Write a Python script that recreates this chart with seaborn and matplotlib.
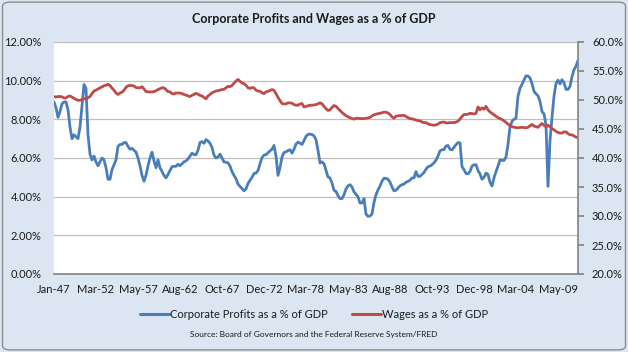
import numpy as np
import pandas as pd
import seaborn as sns
import matplotlib
matplotlib.use("Agg")
import matplotlib.pyplot as plt
from matplotlib.patches import FancyBboxPatch
from matplotlib.lines import Line2D

# ---- data (quarterly, 1947Q1 .. 2012Q3), values in percent ----
profits = [
    8.9, 8.6, 8.1, 8.4, 8.8, 8.9, 8.9, 8.5, 7.6, 7.0,
    7.2, 7.1, 7.0, 7.6, 8.7, 9.8, 9.6, 7.2, 6.2, 5.9,
    6.1, 5.8, 5.6, 5.8, 6.0, 5.9, 5.5, 4.9, 4.9, 5.4,
    5.65, 5.9, 6.6, 6.7, 6.7, 6.8, 6.8, 6.6, 6.45, 6.5,
    6.4, 6.3, 6.0, 5.6, 5.1, 4.8, 5.1, 5.6, 6.0, 6.3,
    5.85, 5.5, 5.9, 5.5, 5.3, 5.1, 4.97, 5.15, 5.35, 5.55,
    5.57, 5.57, 5.68, 5.6, 5.7, 5.8, 5.85, 5.95, 6.1, 6.25,
    6.18, 6.17, 6.4, 6.8, 6.85, 6.76, 6.95, 6.88, 6.76, 6.55,
    6.15, 6.0, 6.05, 6.2, 6.0, 5.8, 5.78, 5.75, 5.58, 5.3,
    5.1, 4.93, 4.65, 4.53, 4.42, 4.3, 4.4, 4.68, 4.85, 5.0,
    5.2, 5.22, 5.35, 5.7, 6.02, 6.15, 6.17, 6.27, 6.37, 6.45,
    6.65, 6.1, 5.1, 5.5, 6.05, 6.28, 6.32, 6.38, 6.43, 6.25,
    6.45, 6.72, 6.82, 6.77, 6.7, 6.9, 7.12, 7.22, 7.24, 7.21,
    7.15, 6.95, 6.4, 5.74, 5.8, 5.7, 5.35, 5.02, 4.97, 4.7,
    4.33, 4.27, 4.05, 3.9, 3.9, 4.1, 4.4, 4.56, 4.62, 4.5,
    4.25, 4.12, 4.0, 3.67, 3.67, 3.9, 3.1, 2.98, 3.0, 3.1,
    3.7, 4.1, 4.35, 4.55, 4.8, 4.95, 4.95, 4.9, 4.75, 4.5,
    4.3, 4.33, 4.45, 4.56, 4.62, 4.65, 4.75, 4.79, 4.85, 4.97,
    4.97, 5.3, 5.05, 5.05, 5.15, 5.25, 5.42, 5.55, 5.58, 5.65,
    5.75, 5.88, 6.1, 6.37, 6.43, 6.43, 6.62, 6.65, 6.45, 6.42,
    6.55, 6.69, 6.8, 6.78, 5.55, 5.4, 5.2, 5.18, 5.3, 5.58,
    5.65, 5.65, 5.35, 5.18, 4.9, 5.0, 5.22, 5.15, 4.75, 4.55,
    4.97, 5.3, 5.58, 5.9, 5.88, 5.87, 6.05, 6.7, 7.6, 7.9,
    8.0, 8.06, 9.2, 9.6, 9.82, 10.03, 10.25, 10.24, 10.14, 9.85,
    9.45, 9.32, 9.22, 8.93, 8.4, 8.28, 7.72, 4.53, 6.9, 8.1,
    9.2, 9.85, 10.03, 9.83, 10.05, 9.9, 9.55, 9.55, 9.7, 10.2,
    10.57, 10.75, 11.05,
]
wages = [
    50.6, 50.5, 50.6, 50.6, 50.55, 50.35, 50.35, 50.6, 50.7, 50.5,
    50.3, 50.1, 49.95, 49.95, 50.1, 50.2, 50.25, 50.4, 50.6, 51.1,
    51.55, 51.7, 51.9, 52.1, 52.25, 52.45, 52.55, 52.7, 52.5, 52.05,
    51.7, 51.2, 50.95, 51.2, 51.35, 51.7, 52.2, 52.45, 52.5, 52.5,
    52.4, 52.15, 52.1, 52.1, 52.3, 51.9, 51.45, 51.4, 51.4, 51.4,
    51.45, 51.6, 51.8, 51.95, 52.1, 52.1, 51.8, 51.45, 51.4, 51.1,
    51.05, 51.2, 51.2, 51.2, 51.1, 50.95, 50.85, 50.7, 50.6, 50.8,
    50.95, 51.15, 51.0, 50.8, 50.7, 50.45, 50.2, 50.7, 50.95, 51.25,
    51.4, 51.55, 51.6, 51.7, 51.8, 51.85, 52.1, 52.35, 52.3, 52.5,
    52.9, 53.25, 53.55, 53.2, 52.95, 52.8, 52.55, 52.1, 52.0, 52.15,
    52.1, 51.7, 51.55, 51.5, 51.25, 51.1, 51.4, 51.5, 51.65, 51.8,
    51.65, 51.1, 50.45, 49.9, 49.4, 49.3, 49.35, 49.5, 49.5, 49.45,
    49.2, 49.1, 49.1, 49.3, 49.4, 48.8, 48.9, 49.0, 49.1, 49.1,
    49.15, 49.2, 49.35, 49.5, 49.35, 48.9, 48.5, 48.2, 48.3, 48.7,
    49.05, 48.9, 48.55, 48.2, 47.85, 47.55, 47.3, 47.1, 46.95, 46.8,
    46.7, 46.85, 46.85, 46.8, 46.8, 46.8, 46.85, 46.9, 47.0, 47.25,
    47.45, 47.55, 47.65, 47.7, 47.8, 47.9, 47.9, 47.75, 47.5, 47.1,
    46.85, 47.2, 47.3, 47.3, 47.35, 47.35, 47.15, 46.95, 46.8, 46.75,
    46.65, 46.55, 46.45, 46.4, 46.2, 46.1, 46.1, 45.9, 45.75, 45.7,
    45.65, 45.7, 45.85, 46.1, 46.15, 46.2, 46.05, 46.05, 46.1, 46.1,
    46.1, 46.2, 46.35, 46.7, 47.15, 47.5, 47.5, 47.55, 47.7, 47.65,
    47.6, 47.7, 48.8, 48.3, 48.65, 48.4, 48.9, 48.3, 47.95, 47.7,
    47.45, 47.2, 46.95, 46.8, 46.65, 46.4, 46.15, 45.85, 45.6, 45.4,
    45.3, 45.25, 45.2, 45.25, 45.3, 45.25, 45.2, 45.3, 45.55, 45.8,
    45.5, 45.4, 45.3, 45.65, 45.95, 45.65, 45.35, 45.65, 45.4, 45.1,
    44.85, 44.6, 44.4, 44.3, 44.3, 44.5, 44.5, 44.2, 44.0, 44.0,
    43.8, 43.6, 43.5,
]
tick_labels = ["Jan-47", "Mar-52", "May-57", "Aug-62", "Oct-67", "Dec-72",
               "Mar-78", "May-83", "Aug-88", "Oct-93", "Dec-98", "Mar-04", "May-09"]
left_ticks = [0, 2, 4, 6, 8, 10, 12]
right_ticks = [20, 25, 30, 35, 40, 45, 50, 55, 60]

title = "Corporate Profits and Wages as a % of GDP"
profit_name = "Corporate Profits as a % of GDP"
wage_name = "Wages as a % of GDP"
source = "Source: Board of Governors and the Federal Reserve System/FRED"

# ---- styling ----
sns.set_theme(style="white")
plt.rcParams["font.family"] = ["Lato", "DejaVu Sans"]
BLUE = "#4a7ebb"
RED = "#be4b48"
BG = "#dce6f2"
TXT = "#1a1a1a"
GRID = "#bfbfbf"
AXC = "#868686"

df = pd.DataFrame({"q": np.arange(len(profits)), "profits": profits, "wages": wages})

fig = plt.figure(figsize=(6.28, 3.52), dpi=100)
fig.patch.set_facecolor(BG)
border = FancyBboxPatch((0.004, 0.006), 0.992, 0.988, boxstyle="round,pad=0,rounding_size=0.012",
                        transform=fig.transFigure, facecolor="none", edgecolor="#8c8c8c", lw=1.0)
fig.patches.append(border)

ax = fig.add_axes([54 / 628, 1 - 274 / 352, (578 - 54) / 628, (274 - 42) / 352])
ax.set_facecolor("white")
ax2 = ax.twinx()

sns.lineplot(data=df, x="q", y="profits", ax=ax, color=BLUE, lw=2.0, legend=False)
sns.lineplot(data=df, x="q", y="wages", ax=ax2, color=RED, lw=2.0, legend=False)

n = len(profits)
ax.set_xlim(0, n - 1)
ax.set_ylim(0, 12)
ax2.set_ylim(20, 60)
ax.set_xticks(np.arange(len(tick_labels)) * 21)
ax.set_xticklabels(tick_labels)
ax.set_yticks(left_ticks)
ax.set_yticklabels([f"{v:.2f}%" for v in left_ticks])
ax2.set_yticks(right_ticks)
ax2.set_yticklabels([f"{v:.1f}%" for v in right_ticks])
ax.set_xlabel("")
ax.set_ylabel("")
ax2.set_ylabel("")

ax.grid(axis="y", color=GRID, lw=0.9)
ax.set_axisbelow(True)
ax2.grid(False)
ax2.set_zorder(ax.get_zorder() + 1)
ax2.patch.set_visible(False)

for a in (ax, ax2):
    for s in a.spines.values():
        s.set_visible(False)
ax.spines["bottom"].set_visible(True)
ax.spines["bottom"].set_color(AXC)
ax2.spines["right"].set_visible(True)
ax2.spines["right"].set_color(AXC)

ax.tick_params(axis="x", labelsize=8, colors=TXT, length=0, pad=7)
ax.tick_params(axis="y", labelsize=8, colors=TXT, length=0, pad=9)
ax2.tick_params(axis="y", labelsize=8, colors=TXT, length=4, color=AXC, direction="out", pad=6)

fig.text(0.5, 1 - 19 / 352, title, ha="center", va="center", fontsize=9, fontweight="bold", color=TXT)

handles = [Line2D([], [], color=BLUE, lw=2.2), Line2D([], [], color=RED, lw=2.2)]
fig.legend(handles, [profit_name, wage_name], loc="center", bbox_to_anchor=(0.5, 1 - 314 / 352),
           ncol=2, frameon=False, fontsize=8, handlelength=2.6, handletextpad=0.1, columnspacing=2.2,
           labelcolor=TXT)

fig.text(0.5, 1 - 334 / 352, source, ha="center", va="center", fontsize=6, color=TXT)

fig.savefig("out.png", dpi=100, facecolor=BG)
